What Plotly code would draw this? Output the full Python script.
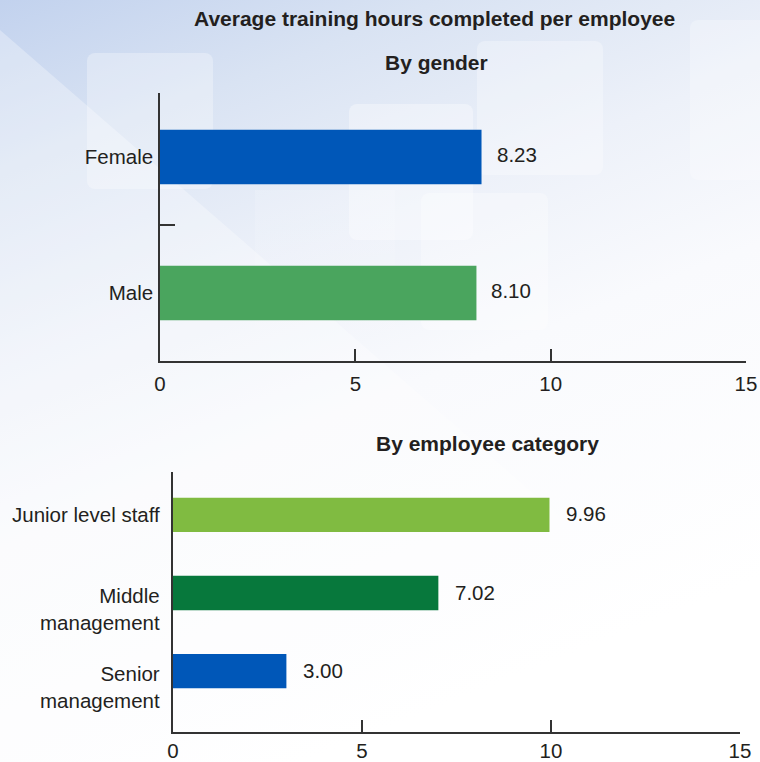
import base64
import plotly.graph_objects as go

# ---- data ----
title_main = "Average training hours completed per employee"
gender_title = "By gender"
gender_cats = ["Male", "Female"]
gender_vals = [8.10, 8.23]
gender_colors = ["#4aa55e", "#0057b8"]

cat_title = "By employee category"
cat_cats = ["Senior<br>management", "Middle<br>management", "Junior level staff"]
cat_vals = [3.00, 7.02, 9.96]
cat_colors = ["#0057b8", "#07783c", "#80bb41"]

x_ticks = [0, 5, 10, 15]

FONT = "Liberation Sans, Arial, Helvetica, sans-serif"
TXT = "#231f20"
AX = "#333333"
FS = 20.5

# ---- decorative background (svg data uri) ----
svg = """<svg xmlns='http://www.w3.org/2000/svg' width='760' height='762' viewBox='0 0 760 762'>
<defs>
<linearGradient id='g' x1='0' y1='0' x2='0.4' y2='1'>
<stop offset='0' stop-color='#c2d2ee'/>
<stop offset='0.2' stop-color='#d9e3f3'/>
<stop offset='0.42' stop-color='#edf1f9'/>
<stop offset='0.62' stop-color='#f9fafd'/>
<stop offset='1' stop-color='#ffffff'/>
</linearGradient>
<linearGradient id='f' x1='0' y1='0' x2='0' y2='1'>
<stop offset='0' stop-color='#ffffff' stop-opacity='0.14'/>
<stop offset='1' stop-color='#ffffff' stop-opacity='0'/>
</linearGradient>
</defs>
<rect width='760' height='762' fill='url(#g)'/>
<polygon points='0,30 760,690 760,762 0,762' fill='#ffffff' opacity='0.30'/>
<rect x='255' y='190' width='140' height='220' fill='url(#f)'/>
<rect x='87' y='53' width='126' height='136' rx='8' fill='#ffffff' opacity='0.30'/>
<rect x='349' y='104' width='124' height='136' rx='8' fill='#ffffff' opacity='0.35'/>
<rect x='477' y='41' width='126' height='134' rx='8' fill='#ffffff' opacity='0.30'/>
<rect x='421' y='193' width='127' height='137' rx='8' fill='#ffffff' opacity='0.30'/>
<rect x='690' y='20' width='120' height='160' rx='8' fill='#ffffff' opacity='0.25'/>
</svg>"""
bg_uri = "data:image/svg+xml;base64," + base64.b64encode(svg.encode()).decode()

fig = go.Figure()

fig.add_trace(go.Bar(
    x=gender_vals, y=gender_cats, orientation="h", width=0.4,
    marker=dict(color=gender_colors, line=dict(width=0)),
    xaxis="x", yaxis="y", hoverinfo="x+y", showlegend=False,
))
fig.add_trace(go.Bar(
    x=cat_vals, y=cat_cats, orientation="h", width=0.44,
    marker=dict(color=cat_colors, line=dict(width=0)),
    xaxis="x2", yaxis="y2", hoverinfo="x", showlegend=False,
))

annotations = []
for v, c in zip(gender_vals, gender_cats):
    annotations.append(dict(x=v, y=c, xref="x", yref="y", text=f"{v:.2f}",
                            xanchor="left", yanchor="middle", xshift=13, yshift=2,
                            showarrow=False, font=dict(size=FS, color=TXT, family=FONT)))
for v, c in zip(cat_vals, cat_cats):
    annotations.append(dict(x=v, y=c, xref="x2", yref="y2", text=f"{v:.2f}",
                            xanchor="left", yanchor="middle", xshift=15, yshift=1,
                            showarrow=False, font=dict(size=FS, color=TXT, family=FONT)))
# category labels of the lower chart (first line aligned with bar centre)
for c in cat_cats:
    nlines = c.count("<br>") + 1
    annotations.append(dict(x=0, y=c, xref="x2", yref="y2", text=c,
                            xanchor="right", yanchor="middle", align="right",
                            xshift=-11, yshift=-(nlines - 1) * 15.5,
                            showarrow=False, font=dict(size=FS, color=TXT, family=FONT)))

annotations += [
    dict(x=0.572, y=1 - 19 / 762, xref="paper", yref="paper", text=f"<b>{title_main}</b>",
         showarrow=False, xanchor="center", yanchor="middle",
         font=dict(size=21, color=TXT, family=FONT)),
    dict(x=0.574, y=1 - 62 / 762, xref="paper", yref="paper", text=f"<b>{gender_title}</b>",
         showarrow=False, xanchor="center", yanchor="middle",
         font=dict(size=21, color=TXT, family=FONT)),
    dict(x=0.642, y=1 - 443 / 762, xref="paper", yref="paper", text=f"<b>{cat_title}</b>",
         showarrow=False, xanchor="center", yanchor="middle",
         font=dict(size=21, color=TXT, family=FONT)),
]

xcommon = dict(range=[0, 15], tickvals=x_ticks, ticktext=[str(t) for t in x_ticks],
               showline=True, linecolor=AX, linewidth=1.5,
               ticks="inside", ticklen=12, tickwidth=1.5, tickcolor=AX,
               showgrid=False, zeroline=False, automargin=False,
               tickfont=dict(size=FS, color=TXT, family=FONT), fixedrange=True)

fig.update_layout(
    width=760, height=762, autosize=False,
    margin=dict(l=0, r=0, t=0, b=0, pad=0, autoexpand=False),
    paper_bgcolor="#ffffff", plot_bgcolor="rgba(0,0,0,0)",
    font=dict(family=FONT, color=TXT),
    images=[dict(source=bg_uri, xref="paper", yref="paper", x=0, y=1,
                 sizex=1, sizey=1, sizing="stretch", layer="below", xanchor="left", yanchor="top")],
    xaxis=dict(domain=[160 / 760, 746 / 760], anchor="y", ticklabelstandoff=4, **xcommon),
    yaxis=dict(domain=[(762 - 361) / 762, (762 - 93) / 762], anchor="x",
               type="category", categoryorder="array", categoryarray=gender_cats,
               range=[-0.5, 1.47], showline=True, linecolor=AX, linewidth=1.5,
               ticks="inside", tickson="boundaries", ticklen=15, tickwidth=1.5, tickcolor=AX,
               showgrid=False, zeroline=False, ticklabelstandoff=1, automargin=False,
               tickfont=dict(size=FS, color=TXT, family=FONT), fixedrange=True),
    xaxis2=dict(domain=[173 / 760, 740 / 760], anchor="y2", ticklabelstandoff=0, **xcommon),
    yaxis2=dict(domain=[(762 - 732) / 762, (762 - 472) / 762], anchor="x2",
                type="category", categoryorder="array", categoryarray=cat_cats,
                range=[-0.78, 2.55], showline=True, linecolor=AX, linewidth=1.5,
                ticks="", showticklabels=False, showgrid=False, zeroline=False,
                automargin=False, fixedrange=True),
    annotations=annotations,
    bargap=0.5,
)

fig.write_html(
    "out.html",
    config={"displayModeBar": False, "responsive": False},
    post_script="document.body.style.margin='0';document.body.style.overflow='hidden';",
)
